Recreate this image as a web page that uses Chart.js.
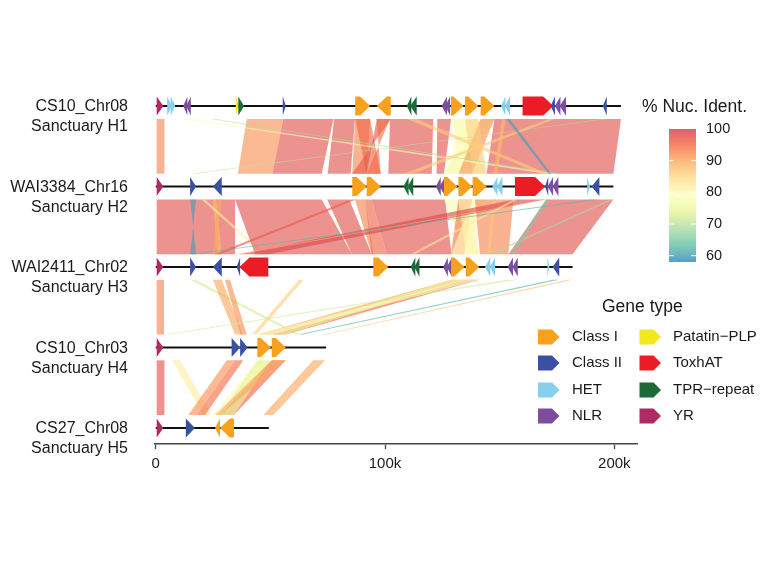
<!DOCTYPE html>
<html>
<head>
<meta charset="utf-8">
<script src="https://cdn.jsdelivr.net/npm/chart.js"></script>
<style>
  html, body { margin: 0; padding: 0; background: #fff; }
  #wrap { width: 768px; height: 576px; }
</style>
</head>
<body>
<div id="wrap"><canvas id="myChart"></canvas></div>
<script>
// sequences, top to bottom
const trackNames = ["CS10_Chr08", "WAI3384_Chr16", "WAI2411_Chr02", "CS10_Chr03", "CS27_Chr08"]
const trackSubs = ["Sanctuary H1", "Sanctuary H2", "Sanctuary H3", "Sanctuary H4", "Sanctuary H5"]
const trackLengths = [202900, 199600, 181800, 74300, 49300]
const trackY = [5, 4, 3, 2, 1]
const xTicks = [0, 100000, 200000]
const identTicks = [60, 70, 80, 90, 100]

const geneTypes = ["Class I", "Class II", "HET", "NLR", "Patatin-PLP", "ToxhAT", "TPR-repeat", "YR"]
const geneColors = ["#F7A11C", "#3A51A3", "#86CFEF", "#7B4EA0", "#F3E81F", "#EC1C24", "#1C6A37", "#B02B63"]

// genes: [start, end, strand, type]
const genesH1 = [
  [400, 3300, 1, "YR"], [5000, 7000, 1, "HET"], [6500, 8500, 1, "HET"],
  [12000, 13800, -1, "NLR"], [13300, 15300, -1, "NLR"],
  [34900, 36300, 1, "Patatin-PLP"], [36000, 38500, 1, "TPR-repeat"],
  [55400, 56700, 1, "Class II"],
  [87000, 93500, 1, "Class I"], [96400, 102500, -1, "Class I"],
  [109500, 111500, -1, "TPR-repeat"], [111000, 113800, -1, "TPR-repeat"],
  [124700, 127000, -1, "NLR"], [126200, 128400, -1, "NLR"],
  [128800, 134200, 1, "Class I"], [134900, 140700, 1, "Class I"], [141700, 147700, 1, "Class I"],
  [150600, 152500, -1, "HET"], [152300, 154500, -1, "HET"],
  [160000, 173400, 1, "ToxhAT"], [172300, 174100, -1, "Class II"],
  [174100, 176500, -1, "NLR"], [176200, 178900, -1, "NLR"],
  [195000, 196700, -1, "Class II"]
]
const genesH2 = [
  [400, 3300, 1, "YR"], [15000, 17600, 1, "Class II"], [24900, 28800, -1, "Class II"],
  [85700, 92000, 1, "Class I"], [92000, 98100, 1, "Class I"],
  [108000, 110300, -1, "TPR-repeat"], [109800, 112300, -1, "TPR-repeat"],
  [122200, 124300, -1, "NLR"], [123800, 126200, -1, "NLR"],
  [125700, 131500, 1, "Class I"], [132000, 138000, 1, "Class I"], [138200, 144300, 1, "Class I"],
  [146800, 149000, -1, "HET"], [148800, 151200, -1, "HET"],
  [156700, 169800, 1, "ToxhAT"], [169800, 171200, -1, "Class II"],
  [171000, 173300, -1, "NLR"], [173100, 175600, -1, "NLR"],
  [188200, 189400, 1, "HET"], [190100, 193500, -1, "Class II"]
]
const genesH3 = [
  [400, 3300, 1, "YR"], [15000, 17600, 1, "Class II"], [24900, 28800, -1, "Class II"],
  [35300, 36800, -1, "Class II"], [36500, 49100, -1, "ToxhAT"],
  [94900, 101400, 1, "Class I"],
  [111200, 113200, -1, "TPR-repeat"], [112800, 115000, -1, "TPR-repeat"],
  [125400, 127400, -1, "NLR"], [127000, 129100, -1, "NLR"],
  [128800, 134600, 1, "Class I"], [135200, 141100, 1, "Class I"],
  [143600, 145900, -1, "HET"], [145700, 148000, -1, "HET"],
  [153500, 155800, -1, "NLR"], [155600, 157900, -1, "NLR"],
  [170800, 171700, 1, "HET"], [173100, 176000, -1, "Class II"]
]
const genesH4 = [
  [400, 3300, 1, "YR"], [33100, 36800, 1, "Class II"], [36800, 40100, 1, "Class II"],
  [44300, 50200, 1, "Class I"], [50600, 56700, 1, "Class I"]
]
const genesH5 = [
  [400, 3300, 1, "YR"], [13100, 17100, 1, "Class II"],
  [25900, 28000, -1, "Class I"], [28000, 34100, -1, "Class I"]
]

// links: [upper start, upper end, lower start, lower end, % identity]
const links12 = [
  [400, 3800, 400, 3800, 93],
  [39700, 55600, 35800, 50900, 92],
  [55600, 77500, 50900, 72400, 98],
  [77800, 86900, 75000, 85000, 98],
  [87000, 93500, 85700, 92000, 93],
  [87000, 93500, 92000, 98100, 96],
  [96400, 102500, 92000, 85700, 97],
  [96400, 102200, 98100, 92000, 95],
  [102200, 121000, 101400, 120400, 98],
  [122800, 128800, 122500, 125700, 98],
  [147700, 202900, 144300, 199600, 98],
  [128800, 134200, 138200, 144300, 76],
  [141700, 147700, 125700, 131500, 75],
  [134900, 140700, 125700, 131500, 78],
  [128800, 134200, 132000, 138000, 79],
  [141700, 147700, 132000, 138000, 92],
  [134900, 140700, 138200, 144300, 86],
  [12000, 15300, 170200, 175600, 80],
  [24000, 26000, 174000, 177000, 68],
  [195000, 196700, 15000, 17600, 70],
  [109500, 113800, 168000, 171200, 86],
  [171500, 174100, 108000, 112300, 86],
  [151000, 152600, 147400, 149000, 88],
  [152800, 154500, 171300, 172500, 60]
]
const links23 = [
  [400, 34600, 400, 34600, 98],
  [15000, 17600, 17600, 15000, 60],
  [24900, 26500, 26800, 28800, 88],
  [27000, 28800, 24900, 26500, 90],
  [20000, 21500, 46500, 48000, 82],
  [34600, 72400, 43300, 85500, 98],
  [74800, 84400, 85500, 94200, 98],
  [86900, 91300, 94200, 94900, 93],
  [91300, 94200, 94200, 100700, 96],
  [94200, 126200, 100700, 129000, 98],
  [125700, 131500, 135200, 141100, 77],
  [132000, 138000, 128800, 134600, 94],
  [138200, 144300, 128800, 134600, 79],
  [132000, 138000, 135200, 141100, 81],
  [139200, 156000, 141400, 153800, 93],
  [147000, 148400, 144500, 145900, 87],
  [170500, 199600, 153800, 181800, 98],
  [156700, 169800, 36500, 49100, 99],
  [85000, 87500, 25500, 28000, 97],
  [169500, 171200, 34500, 36800, 88],
  [156000, 157800, 111200, 113000, 82],
  [198000, 199500, 145000, 146800, 68],
  [170000, 171500, 154500, 156000, 65],
  [190100, 193500, 15000, 17600, 62]
]
const links34 = [
  [400, 3600, 400, 3600, 93],
  [15000, 17600, 61000, 63000, 72],
  [24900, 28800, 34600, 38000, 90],
  [30200, 32400, 37000, 39700, 92],
  [62500, 64500, 42000, 44000, 86],
  [128800, 134600, 44300, 50200, 90],
  [135200, 141100, 50600, 56700, 96],
  [128800, 134600, 50600, 56700, 74],
  [135200, 141100, 44300, 50200, 78],
  [153500, 157900, 4000, 6500, 72],
  [173100, 176000, 62000, 64000, 62],
  [179500, 181800, 73000, 74300, 88]
]
const links45 = [
  [400, 3800, 400, 3800, 98],
  [7000, 10600, 20800, 24400, 82],
  [31000, 34600, 14200, 17800, 92],
  [34600, 38200, 17800, 21500, 95],
  [44300, 50200, 25100, 30200, 80],
  [50600, 56700, 28000, 34100, 96],
  [44300, 50200, 28000, 34100, 74],
  [50600, 56700, 25900, 28000, 90],
  [68700, 73800, 46900, 51300, 90]
]

const allGenes = [genesH1, genesH2, genesH3, genesH4, genesH5]
const allLinks = [links12, links23, links34, links45]

const spectral = ["#3288BD", "#66C2A5", "#ABDDA4", "#E6F598", "#FFFFBF", "#FEE08B", "#FDAE61", "#F46D43", "#D53E4F"]
const identMin = 58, identMax = 100
const fontFam = "'Liberation Sans', Arial, Helvetica, sans-serif"
const textCol = "#1a1a1a"

function hexRgb(h) {
  return [parseInt(h.slice(1, 3), 16), parseInt(h.slice(3, 5), 16), parseInt(h.slice(5, 7), 16)]
}
function identColor(v, a) {
  let t = (Math.min(Math.max(v, identMin), identMax) - identMin) / (identMax - identMin) * (spectral.length - 1)
  let i = Math.min(Math.floor(t), spectral.length - 2), f = t - i
  const c1 = hexRgb(spectral[i]), c2 = hexRgb(spectral[i + 1])
  const c = c1.map((v1, k) => Math.round(v1 + (c2[k] - v1) * f))
  return "rgba(" + c[0] + "," + c[1] + "," + c[2] + "," + a + ")"
}

function arrowPath(c, x1, x2, y, strand, hw, head) {
  const h = Math.min(head, x2 - x1)
  c.beginPath()
  if (strand > 0) {
    c.moveTo(x1, y - hw); c.lineTo(x2 - h, y - hw); c.lineTo(x2, y); c.lineTo(x2 - h, y + hw); c.lineTo(x1, y + hw)
  } else {
    c.moveTo(x2, y - hw); c.lineTo(x1 + h, y - hw); c.lineTo(x1, y); c.lineTo(x1 + h, y + hw); c.lineTo(x2, y + hw)
  }
  c.closePath()
}

const linkGap = 0.16

const synteny = {
  id: "synteny",
  beforeDatasetsDraw(chart) {
    const c = chart.ctx, xs = chart.scales.x, ys = chart.scales.y
    c.save()
    allLinks.forEach((links, i) => {
      const yTop = ys.getPixelForValue(trackY[i] - linkGap)
      const yBot = ys.getPixelForValue(trackY[i + 1] + linkGap)
      links.forEach(l => {
        c.beginPath()
        c.moveTo(xs.getPixelForValue(l[0]), yTop)
        c.lineTo(xs.getPixelForValue(l[1]), yTop)
        c.lineTo(xs.getPixelForValue(l[3]), yBot)
        c.lineTo(xs.getPixelForValue(l[2]), yBot)
        c.closePath()
        c.fillStyle = identColor(l[4], 0.62)
        c.fill()
      })
    })
    c.restore()
  },
  afterDatasetsDraw(chart) {
    const c = chart.ctx, xs = chart.scales.x, ys = chart.scales.y
    c.save()
    allGenes.forEach((genes, i) => {
      const y = ys.getPixelForValue(trackY[i])
      genes.forEach(g => {
        arrowPath(c, xs.getPixelForValue(g[0]), xs.getPixelForValue(g[1]), y, g[2], 9.5, 10)
        c.fillStyle = geneColors[geneTypes.indexOf(g[3])]
        c.fill()
      })
    })
    // sequence labels
    c.fillStyle = textCol
    c.font = "16px " + fontFam
    c.textAlign = "right"
    c.textBaseline = "middle"
    trackNames.forEach((name, i) => {
      const y = ys.getPixelForValue(trackY[i])
      c.fillText(name, 128, y + 1)
      c.fillText(trackSubs[i], 128, y + 21)
    })
    c.restore()
  },
  afterDraw(chart) {
    const c = chart.ctx
    c.save()
    // colour bar
    const barX = 669, barW = 27, barTop = 129, barBot = 262
    const pxPer = (barBot - barTop) / (identMax - identMin)
    const grad = c.createLinearGradient(0, barBot, 0, barTop)
    spectral.forEach((col, k) => grad.addColorStop(k / (spectral.length - 1), col))
    c.globalAlpha = 0.82
    c.fillStyle = grad
    c.fillRect(barX, barTop, barW, barBot - barTop)
    c.globalAlpha = 1
    c.strokeStyle = "rgba(255,255,255,0.9)"
    c.lineWidth = 1
    c.fillStyle = textCol
    c.font = "14.5px " + fontFam
    c.textAlign = "left"
    c.textBaseline = "middle"
    identTicks.forEach(v => {
      const y = barBot - (v - identMin) * pxPer
      if (v < 100) {
        c.beginPath()
        c.moveTo(barX, y); c.lineTo(barX + 5, y)
        c.moveTo(barX + barW - 5, y); c.lineTo(barX + barW, y)
        c.stroke()
      }
      c.fillText(String(v), 706, y)
    })
    c.font = "17.5px " + fontFam
    c.fillText("% Nuc. Ident.", 642, 107)

    // gene type legend
    c.fillText("Gene type", 602, 307)
    c.font = "15px " + fontFam
    const rowY = [337, 363, 390, 416]
    geneTypes.forEach((t, k) => {
      const col = Math.floor(k / 4), row = k % 4
      const sx = col === 0 ? 538 : 639.5
      const tx = col === 0 ? 572 : 673
      arrowPath(c, sx, sx + 21.5, rowY[row], 1, 7.5, 7.5)
      c.fillStyle = geneColors[k]
      c.fill()
      c.fillStyle = textCol
      c.fillText(t.replace("-", "\u2212"), tx, rowY[row])
    })
    c.restore()
  }
}

const seqDatasets = trackLengths.map((len, i) => ({
  type: "line",
  data: [{x: 0, y: trackY[i]}, {x: len, y: trackY[i]}],
  borderColor: "#111",
  borderWidth: 2,
  pointRadius: 0,
  fill: false
}))

new Chart(document.getElementById("myChart"), {
  type: "scatter",
  data: { datasets: seqDatasets },
  options: {
    responsive: true,
    maintainAspectRatio: false,
    animation: false,
    layout: { padding: { left: 154.6, right: 131, top: 90, bottom: 97 } },
    plugins: { legend: { display: false }, tooltip: { enabled: false } },
    scales: {
      x: {
        type: "linear",
        min: -500,
        max: 209900,
        afterBuildTicks: axis => { axis.ticks = xTicks.map(v => ({value: v})) },
        ticks: {
          callback: v => v === 0 ? "0" : (v / 1000) + "k",
          font: { family: fontFam, size: 15 },
          color: textCol,
          padding: 6,
          maxRotation: 0
        },
        grid: { display: true, drawOnChartArea: false, drawTicks: true, tickLength: 5, color: "#444", tickWidth: 1.3 },
        border: { display: true, color: "#444", width: 1.5 }
      },
      y: { type: "linear", min: 0.8, max: 5.2, display: false }
    }
  },
  plugins: [synteny]
})
</script>
</body>
</html>
